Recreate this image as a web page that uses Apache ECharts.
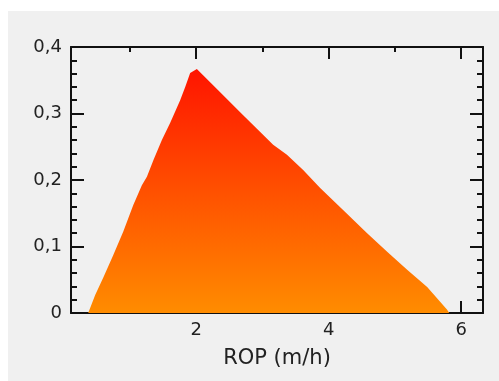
<!DOCTYPE html>
<html lang="en">

<head>
    <meta charset="UTF-8">
    <title>ROP</title>
    <style>
        html, body {
            margin: 0;
            padding: 0;
            background: #ffffff;
        }
        .div {
            position: absolute;
            left: 8px;
            top: 11px;
            width: 491px;
            height: 370px;
            background: #f0f0f0;
        }
    </style>
</head>

<body>
    <div class="div"></div>
</body>
<script src="https://cdn.jsdelivr.net/npm/echarts@6/dist/echarts.min.js"></script>

<script>
    // values
    var rop = [0.37, 0.475, 0.596, 0.747, 0.898, 1.049, 1.18, 1.256, 1.355, 1.482, 1.608, 1.758, 1.834, 1.909, 2.01,
        2.034, 2.332, 2.664, 2.917, 3.162, 3.37, 3.615, 3.872, 4.249, 4.581, 4.883, 5.185, 5.487, 5.789, 5.82];
    var prob = [0, 0.027, 0.053, 0.087, 0.122, 0.162, 0.192, 0.205, 0.230, 0.260, 0.286, 0.320, 0.340, 0.361, 0.367,
        0.366, 0.335, 0.302, 0.277, 0.253, 0.238, 0.215, 0.188, 0.152, 0.120, 0.092, 0.065, 0.039, 0.005, 0];
    var xMajor = [2, 4, 6];
    var xMinor = [1, 3, 5];
    var xMin = 0.11, xMax = 6.33;
    var yMin = 0, yMax = 0.4;

    var points = rop.map(function (x, i) { return [x, prob[i]]; });

    var font = 'DejaVu Sans';
    var black = '#111111';

    function xAxis(position, ticks, len, withLabel, withLine) {
        return {
            type: 'value',
            position: position,
            min: xMin,
            max: xMax,
            axisLine: { show: withLine, onZero: false, lineStyle: { color: black, width: 2 } },
            axisTick: { show: true, inside: true, length: len, customValues: ticks, lineStyle: { color: black, width: 2 } },
            axisLabel: {
                show: withLabel,
                customValues: ticks,
                margin: 8,
                color: '#222',
                fontFamily: font,
                fontSize: 18
            },
            splitLine: { show: false },
            name: withLabel ? 'ROP (m/h)' : '',
            nameLocation: 'middle',
            nameGap: 35,
            nameTextStyle: { color: '#222', fontFamily: font, fontSize: 21 }
        };
    }

    function yAxis(position, withLabel) {
        return {
            type: 'value',
            position: position,
            min: yMin,
            max: yMax,
            interval: 0.1,
            axisLine: { show: true, onZero: false, lineStyle: { color: black, width: 2 } },
            axisTick: { show: true, inside: true, length: 13, lineStyle: { color: black, width: 2 } },
            minorTick: { show: true, splitNumber: 5, length: 6, lineStyle: { color: black, width: 2 } },
            axisLabel: {
                show: withLabel,
                margin: 9,
                color: '#222',
                fontFamily: font,
                fontSize: 18,
                formatter: function (v) {
                    return v === 0 ? '0' : v.toFixed(1).replace('.', ',');
                }
            },
            splitLine: { show: false }
        };
    }

    var mChart = echarts.init(document.getElementsByClassName('div')[0]);
    var option = {
        animation: false,
        grid: { left: 63, top: 36, right: 16, bottom: 68 },
        xAxis: [
            xAxis('bottom', xMajor, 12, true, true),
            xAxis('bottom', xMinor, 5, false, false),
            xAxis('top', xMajor, 12, false, true),
            xAxis('top', xMinor, 5, false, false)
        ],
        yAxis: [
            yAxis('left', true),
            yAxis('right', false)
        ],
        series: [
            {
                type: 'line',
                xAxisIndex: 0,
                yAxisIndex: 0,
                data: points,
                showSymbol: false,
                lineStyle: { width: 0, opacity: 0 },
                areaStyle: {
                    opacity: 1,
                    color: new echarts.graphic.LinearGradient(0, 0, 0, 1, [
                        { offset: 0, color: '#ff1400' },
                        { offset: 1, color: '#ff8c00' }
                    ])
                }
            }
        ]
    };

    mChart.setOption(option);
</script>

</html>
